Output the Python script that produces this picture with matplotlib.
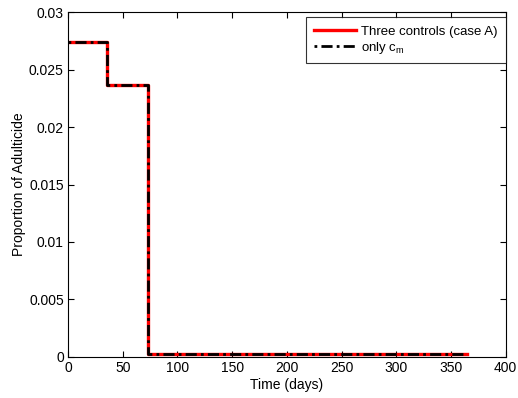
import matplotlib
matplotlib.use("Agg")
import matplotlib.pyplot as plt

plt.rcParams['font.family'] = ['Liberation Sans', 'DejaVu Sans']

# Step data (time in days, proportion of adulticide)
t_edges = [0, 36, 73, 365]
three_controls = [0.0274, 0.0237, 0.0002]
only_cm = [0.0274, 0.0237, 0.0002]

def step_xy(edges, vals):
    xs, ys = [], []
    for i, v in enumerate(vals):
        xs += [edges[i], edges[i + 1]]
        ys += [v, v]
    return xs, ys

fig = plt.figure(figsize=(5.18, 3.98), dpi=100)
ax = fig.add_axes([0.1313, 0.1038, 0.845, 0.865])

x1, y1 = step_xy(t_edges, three_controls)
x2, y2 = step_xy(t_edges, only_cm)
ax.plot(x1, y1, color='red', lw=2.4, label='Three controls (case A)')
ax.plot(x2, y2, color='black', lw=2.0, ls=(0, (1.0, 1.5, 4, 1.5)), label='only c$_\\mathregular{m}$')

ax.set_xlim(0, 400)
ax.set_ylim(0, 0.03)
ax.set_xticks([0, 50, 100, 150, 200, 250, 300, 350, 400])
ax.set_yticks([0, 0.005, 0.01, 0.015, 0.02, 0.025, 0.03])
ax.set_yticklabels(['0', '0.005', '0.01', '0.015', '0.02', '0.025', '0.03'])
ax.tick_params(direction='in', top=True, right=True, labelsize=10, length=4, width=0.8, pad=3)
for s in ax.spines.values():
    s.set_linewidth(0.8)
ax.set_xlabel('Time (days)', fontsize=10, labelpad=2)
ax.set_ylabel('Proportion of Adulticide', fontsize=10, labelpad=2)

leg = ax.legend(loc='upper right', bbox_to_anchor=(1.0, 0.9855), fontsize=9.5,
                frameon=True, fancybox=False, edgecolor='black', borderaxespad=0.0,
                handlelength=3.2, borderpad=0.6, labelspacing=0.15, handletextpad=0.4)
leg.get_frame().set_linewidth(0.8)

fig.savefig('out.png', dpi=100)
